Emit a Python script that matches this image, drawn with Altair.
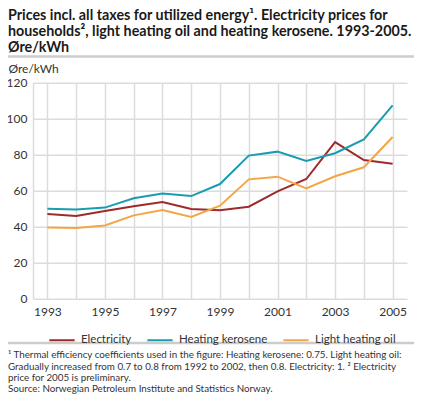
import altair as alt
import pandas as pd

years = list(range(1993, 2006))
electricity = [47, 46, 48.7, 51.3, 53.7, 49.8, 49.1, 51.1, 59.6, 66.5, 87, 77, 75]
kerosene = [50, 49.6, 50.6, 55.8, 58.5, 57, 63.7, 79.5, 81.7, 76.5, 80.8, 88.5, 107.4]
light_oil = [39.5, 39.3, 40.7, 46.3, 49.3, 45.4, 51.7, 66.3, 67.8, 61.3, 68, 73, 89.8]
series = ["Electricity", "Heating kerosene", "Light heating oil"]
colors = ["#9e2a2b", "#1a9cb0", "#f4a546"]
y_ticks = [0, 20, 40, 60, 80, 100, 120]

title_lines = [
    "Prices incl. all taxes for utilized energy¹. Electricity  prices for",
    "households², light heating oil and heating kerosene. 1993-2005.",
    "Øre/kWh",
]
foot_lines = [
    "¹ Thermal efficiency coefficients used in the figure: Heating kerosene: 0.75. Light heating oil:",
    "Gradually increased from 0.7 to 0.8 from 1992 to 2002, then 0.8. Electricity: 1.  ² Electricity",
    "price for 2005 is preliminary.",
    "Source: Norwegian Petroleum Institute and Statistics Norway.",
]

rows = []
for name, vals in zip(series, [electricity, kerosene, light_oil]):
    for yr, v in zip(years, vals):
        rows.append({"year": yr, "value": v, "series": name})
df = pd.DataFrame(rows)

W, H = 374, 216
OX, OY = 33, 82.7  # page position of plot origin
FONT = "Lato"

def px(x):
    return x - OX

def py(y):
    return y - OY

lines = alt.Chart(df).mark_line(strokeWidth=2).encode(
    x=alt.X("year:Q", scale=alt.Scale(domain=[1992.5, 2005.5], nice=False, zero=False),
            axis=alt.Axis(values=years, format="d", title=None, ticks=False, domain=False,
                          labelExpr="datum.value % 2 == 1 ? datum.label : ''",
                          labelFontSize=12, labelColor="#333333", labelPadding=8,
                          labelFont=FONT, gridColor="#dcdcdc", gridWidth=1.5)),
    y=alt.Y("value:Q", scale=alt.Scale(domain=[0, 120], nice=False),
            axis=alt.Axis(values=y_ticks, title="Øre/kWh", titleAngle=0, titleAlign="left",
                          titleBaseline="middle", titleX=px(8), titleY=py(68),
                          titleFontWeight="normal", titleFontSize=12, titleColor="#333333",
                          titleFont=FONT, ticks=False, domainColor="#dcdcdc", domainWidth=1.5,
                          labelFontSize=12, labelColor="#333333", labelPadding=6,
                          labelFont=FONT, gridColor="#dcdcdc", gridWidth=1.5)),
    color=alt.Color("series:N", scale=alt.Scale(domain=series, range=colors),
                    legend=alt.Legend(title=None, orient="none", direction="horizontal",
                                      legendX=px(48), legendY=py(326), symbolType="stroke",
                                      symbolSize=640, symbolStrokeWidth=2, labelFontSize=11.5,
                                      labelFont=FONT, labelColor="#333333", columnPadding=11,
                                      labelOffset=5)),
)

layers = [lines]
title_y = [16.5, 32.5, 48]
for t, yy in zip(title_lines, title_y):
    layers.append(alt.Chart(alt.Data(values=[{}])).mark_text(
        align="left", baseline="middle", font=FONT, fontSize=14.3, fontWeight="bold",
        color="#1a1a1a").encode(x=alt.value(px(8)), y=alt.value(py(yy)), text=alt.value(t)))

foot_y = [355, 366.5, 377.5, 389]
for t, yy in zip(foot_lines, foot_y):
    layers.append(alt.Chart(alt.Data(values=[{}])).mark_text(
        align="left", baseline="middle", font=FONT, fontSize=9.8,
        color="#333333").encode(x=alt.value(px(8)), y=alt.value(py(yy)), text=alt.value(t)))

for yy in [56.5, 343]:
    layers.append(alt.Chart(alt.Data(values=[{}])).mark_rule(color="#cccccc", strokeWidth=2.5).encode(
        x=alt.value(px(8)), x2=alt.value(px(414)), y=alt.value(py(yy))))

chart = alt.layer(*layers).properties(
    width=W, height=H,
    autosize=alt.AutoSizeParams(type="none"),
    padding={"left": OX - 8, "top": OY - 8, "right": 414 - OX - W, "bottom": 390 - (OY - 8) - H},
).configure_view(stroke=None)

chart.save("out.html", embed_options={"renderer": "svg", "actions": False})
